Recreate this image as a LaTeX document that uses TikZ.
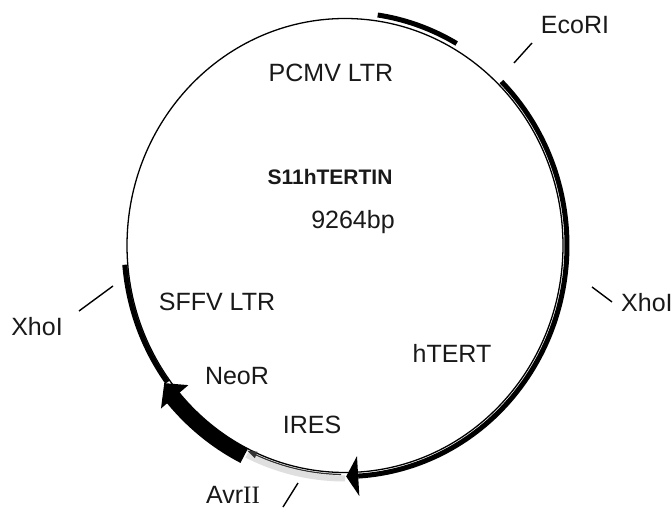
\documentclass[tikz,border=0pt]{standalone}
\usepackage{fontspec}
\setmainfont{Liberation Sans}
\newfontfamily\serifII{Liberation Serif}
\newcommand\cx{345}
\newcommand\cy{245.5}
\newcommand\rx{218}
\newcommand\ry{227}
% arc feature: from angle, to angle, radial offset, style
\newcommand\featarc[4]{%
  \draw[#4] plot[domain=#1:#2, samples=90] ({\cx+(\rx+#3)*cos(\x)}, {\cy-(\ry+#3)*sin(\x)});}
% arrow head: tip angle, back angle, radial offset, half width, style
\newcommand\arrowhd[5]{%
  \fill[#5] ({\cx+(\rx+#3)*cos(#1)}, {\cy-(\ry+#3)*sin(#1)})
    -- ({\cx+(\rx+#3+#4)*cos(#2)}, {\cy-(\ry+#3+#4)*sin(#2)})
    -- ({\cx+(\rx+#3-#4)*cos(#2)}, {\cy-(\ry+#3-#4)*sin(#2)}) -- cycle;}
\begin{document}
\begin{tikzpicture}[x=1pt,y=-1pt,
  lbl/.style={font=\fontsize{25}{28}\selectfont, inner sep=0pt, text=black!90},
  ticksty/.style={line width=1.4pt},
  bandsty/.style={line width=5pt, line cap=butt},
]
\useasboundingbox[fill=white] (0,0) rectangle (672,508);
\coordinate (C) at (\cx,\cy);
% IRES grey band (under everything)
\featarc{244}{270}{6}{line width=6pt, gray!25}
% backbone
\draw[line width=1.3pt] (C) ellipse [x radius=218pt, y radius=227pt];
% PCMV LTR
\featarc{60.1}{81.6}{6}{bandsty}
% hTERT
\featarc{-86.6}{45.2}{4}{bandsty}
\arrowhd{-89.7}{-86.6}{4}{20}{black}
% SFFV LTR
\featarc{184.8}{216.5}{3}{bandsty}
% NeoR
\featarc{220.3}{243.5}{8}{line width=16pt}
\arrowhd{216.2}{220.5}{6}{18}{black}
% IRES thin line and small head
\featarc{246}{269}{2}{line width=1.2pt, black!80}
\arrowhd{243.6}{246.2}{2}{3.5}{black!80}
% restriction ticks
\coordinate (e1) at (532,43);  \coordinate (e2) at (514,63);
\coordinate (x1) at (592,287); \coordinate (x2) at (612,302);
\coordinate (l1) at (113,286); \coordinate (l2) at (79,311);
\coordinate (a1) at (298,483); \coordinate (a2) at (283,507);
\draw[ticksty] (e1) -- (e2);
\draw[ticksty] (x1) -- (x2);
\draw[ticksty] (l1) -- (l2);
\draw[ticksty] (a1) -- (a2);
% labels
\node[lbl] (ecori) at (575,25) {EcoRI};
\node[lbl, anchor=west] (xhor) at (621,303) {XhoI};
\node[lbl] (xhol) at (37,327) {XhoI};
\node[lbl] (avr) at (233,495) {Avr{\serifII II}};
\node[lbl] (pcmv) at (331,73) {PCMV LTR};
\node[lbl, font=\bfseries\fontsize{21}{24}\selectfont] (name) at (330,177) {S11hTERTIN};
\node[lbl] (bp) at (353,222) {9264bp};
\node[lbl] (sffv) at (217,302) {SFFV LTR};
\node[lbl] (htert) at (452,353) {hTERT};
\node[lbl] (neo) at (237,376) {NeoR};
\node[lbl] (ires) at (312,425) {IRES};
\end{tikzpicture}
\end{document}
